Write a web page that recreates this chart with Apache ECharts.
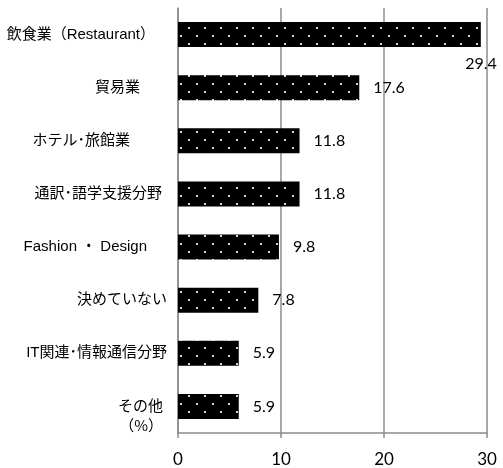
<!DOCTYPE html>
<html>
<head>
<meta charset="utf-8">
<script src="https://cdn.jsdelivr.net/npm/echarts@6/dist/echarts.min.js"></script>
<style>
  html, body { margin: 0; padding: 0; background: #fff; }
  #chart { width: 503px; height: 468px; }
</style>
</head>
<body>
<div id="chart"></div>
<script>
// Business fields (top to bottom) and their shares in percent
const categories = [
  '飲食業（Restaurant）',
  '貿易業',
  'ホテル･旅館業',
  '通訳･語学支援分野',
  'Fashion ・ Design',
  '決めていない',
  'IT関連･情報通信分野',
  'その他'
];
const values = [29.4, 17.6, 11.8, 11.8, 9.8, 7.8, 5.9, 5.9];
const xTicks = [0, 10, 20, 30];
const unitLabel = '（%）';

// Extra right padding per category label, so each name sits where it was laid out
const labelShift = [12, 27, 37, 5, 20, 0, 0, 4];

// Black fill with a staggered grid of small white dots
function dotPattern() {
  const c = document.createElement('canvas');
  c.width = 16; c.height = 16;
  const g = c.getContext('2d');
  g.fillStyle = '#000';
  g.fillRect(0, 0, 16, 16);
  g.fillStyle = '#d8d8d8';
  g.fillRect(4, 3, 2, 2);
  g.fillRect(12, 11, 2, 2);
  return c;
}

const chart = echarts.init(document.getElementById('chart'));
const numFont = 'Lato, "Liberation Sans", sans-serif';
const catFont = '"Liberation Sans", "Noto Sans CJK JP", sans-serif';

chart.setOption({
  animation: false,
  grid: { left: 178, right: 16, top: 8, bottom: 35, containLabel: false },
  xAxis: {
    type: 'value',
    min: xTicks[0],
    max: xTicks[xTicks.length - 1],
    interval: 10,
    axisLine: { show: true, lineStyle: { color: '#8c8c8c', width: 1.5 } },
    axisTick: { show: true, length: 5, lineStyle: { color: '#8c8c8c', width: 1.5 } },
    splitLine: { show: true, lineStyle: { color: '#8c8c8c', width: 1.5 } },
    axisLabel: { color: '#000', fontSize: 17, fontFamily: numFont, margin: 18 }
  },
  yAxis: {
    type: 'category',
    inverse: true,
    data: categories.map((c, i) => ({
      value: c,
      textStyle: { padding: [0, labelShift[i], 0, 0] }
    })),
    axisLine: { show: true, lineStyle: { color: '#8c8c8c', width: 1.5 } },
    axisTick: { show: false },
    axisLabel: {
      color: '#000',
      fontSize: 15,
      fontFamily: catFont,
      margin: 11
    }
  },
  series: [{
    type: 'bar',
    barWidth: 25,
    data: values.map((v, i) => i === 0
      ? { value: v, label: { position: 'insideRight', offset: [30, 29] } }
      : v),
    itemStyle: { color: { image: dotPattern(), repeat: 'repeat' } },
    label: {
      show: true,
      position: 'right',
      distance: 14,
      color: '#000',
      fontSize: 16,
      fontFamily: numFont
    }
  }],
  graphic: [{
    type: 'text',
    right: 503 - 163,
    top: 418,
    style: {
      text: unitLabel,
      fill: '#000',
      font: '15px "Noto Sans CJK JP", sans-serif'
    }
  }]
});
</script>
</body>
</html>
